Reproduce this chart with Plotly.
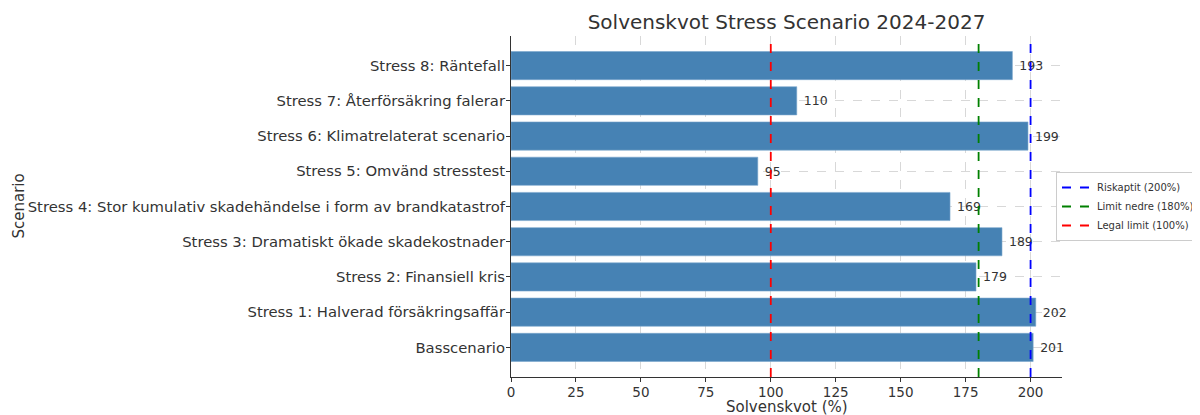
import plotly.graph_objects as go

categories = [
    "Basscenario",
    "Stress 1: Halverad försäkringsaffär",
    "Stress 2: Finansiell kris",
    "Stress 3: Dramatiskt ökade skadekostnader",
    "Stress 4: Stor kumulativ skadehändelse i form av brandkatastrof",
    "Stress 5: Omvänd stresstest",
    "Stress 6: Klimatrelaterat scenario",
    "Stress 7: Återförsäkring falerar",
    "Stress 8: Räntefall",
]
values = [201, 202, 179, 189, 169, 95, 199, 110, 193]

limit_names = ["Riskaptit (200%)", "Limit nedre (180%)", "Legal limit (100%)"]
limit_values = [200, 180, 100]
limit_colors = ["blue", "green", "red"]

x_ticks = [0, 25, 50, 75, 100, 125, 150, 175, 200]

FONT = "DejaVu Sans"
TXT = "#333333"

# page body has an 8px margin: figure covers screen x 8..1200, y 8..415
W, H = 1192, 407
L, R, T, B = 503, 138, 28, 38
plot_w = W - L - R
plot_h = H - T - B

fig = go.Figure()
fig.add_trace(go.Bar(
    x=values, y=list(range(len(categories))), orientation="h",
    marker=dict(color="#4682B4", line=dict(color="#7aa6cc", width=0.6)),
    width=0.8,
    text=[" " + str(v) for v in values], textposition="outside",
    textfont=dict(family=FONT, size=12.5, color=TXT),
    cliponaxis=False, showlegend=False, hoverinfo="skip",
))

for name, v, c in zip(limit_names, limit_values, limit_colors):
    fig.add_shape(type="line", xref="x", yref="paper", x0=v, x1=v, y0=0, y1=1,
                  line=dict(color=c, width=1.8, dash="dash"), layer="above")
    fig.add_trace(go.Scatter(x=[None], y=[None], mode="lines", name=name,
                             line=dict(color=c, width=1.8, dash="dash")))

fig.update_layout(
    width=W, height=H,
    margin=dict(l=L, r=R, t=T, b=B, autoexpand=False),
    paper_bgcolor="white", plot_bgcolor="white",
    font=dict(family=FONT, size=15, color=TXT),
    title=dict(text="Solvenskvot Stress Scenario 2024-2027", x=(L + plot_w / 2) / W,
               xanchor="center", y=1 - 14 / H, yanchor="middle",
               font=dict(family=FONT, size=20, color=TXT)),
    bargap=0.2,
    legend=dict(x=1.0, xref="container", xanchor="right", y=0.5, yanchor="middle",
                font=dict(family=FONT, size=10, color=TXT),
                bordercolor="#cccccc", borderwidth=1, bgcolor="white",
                itemwidth=30, tracegroupgap=0),
    annotations=[
        dict(text="Solvenskvot (%)", xref="paper", yref="paper",
             x=0.5, y=-29.5 / plot_h, xanchor="center", yanchor="middle",
             showarrow=False, font=dict(family=FONT, size=15, color=TXT)),
        dict(text="Scenario", xref="paper", yref="paper",
             x=(18 - 511) / plot_w, y=0.5, xanchor="center", yanchor="middle", textangle=-90,
             showarrow=False, font=dict(family=FONT, size=15, color=TXT)),
    ],
)
fig.update_xaxes(
    range=[0, 212.1], tickvals=x_ticks, ticktext=[str(t) for t in x_ticks],
    showgrid=True, gridcolor="#d8d8d8", griddash="dash", gridwidth=0.8,
    showline=True, linecolor="#333333", linewidth=1,
    ticks="outside", ticklen=4, tickcolor="#333333",
    tickfont=dict(family=FONT, size=13.5, color=TXT),
    ticklabelstandoff=-1,
    zeroline=False, automargin=False,
)
fig.update_yaxes(
    range=[-0.84, 8.84], tickvals=list(range(len(categories))), ticktext=categories,
    showgrid=True, gridcolor="#d8d8d8", griddash="dash", gridwidth=0.8,
    showline=True, linecolor="#333333", linewidth=1,
    ticks="outside", ticklen=4, tickcolor="#333333",
    tickfont=dict(family=FONT, size=14.8, color=TXT),
    ticklabelstandoff=-2,
    zeroline=False, automargin=False,
)

fig.write_html("out.html")
